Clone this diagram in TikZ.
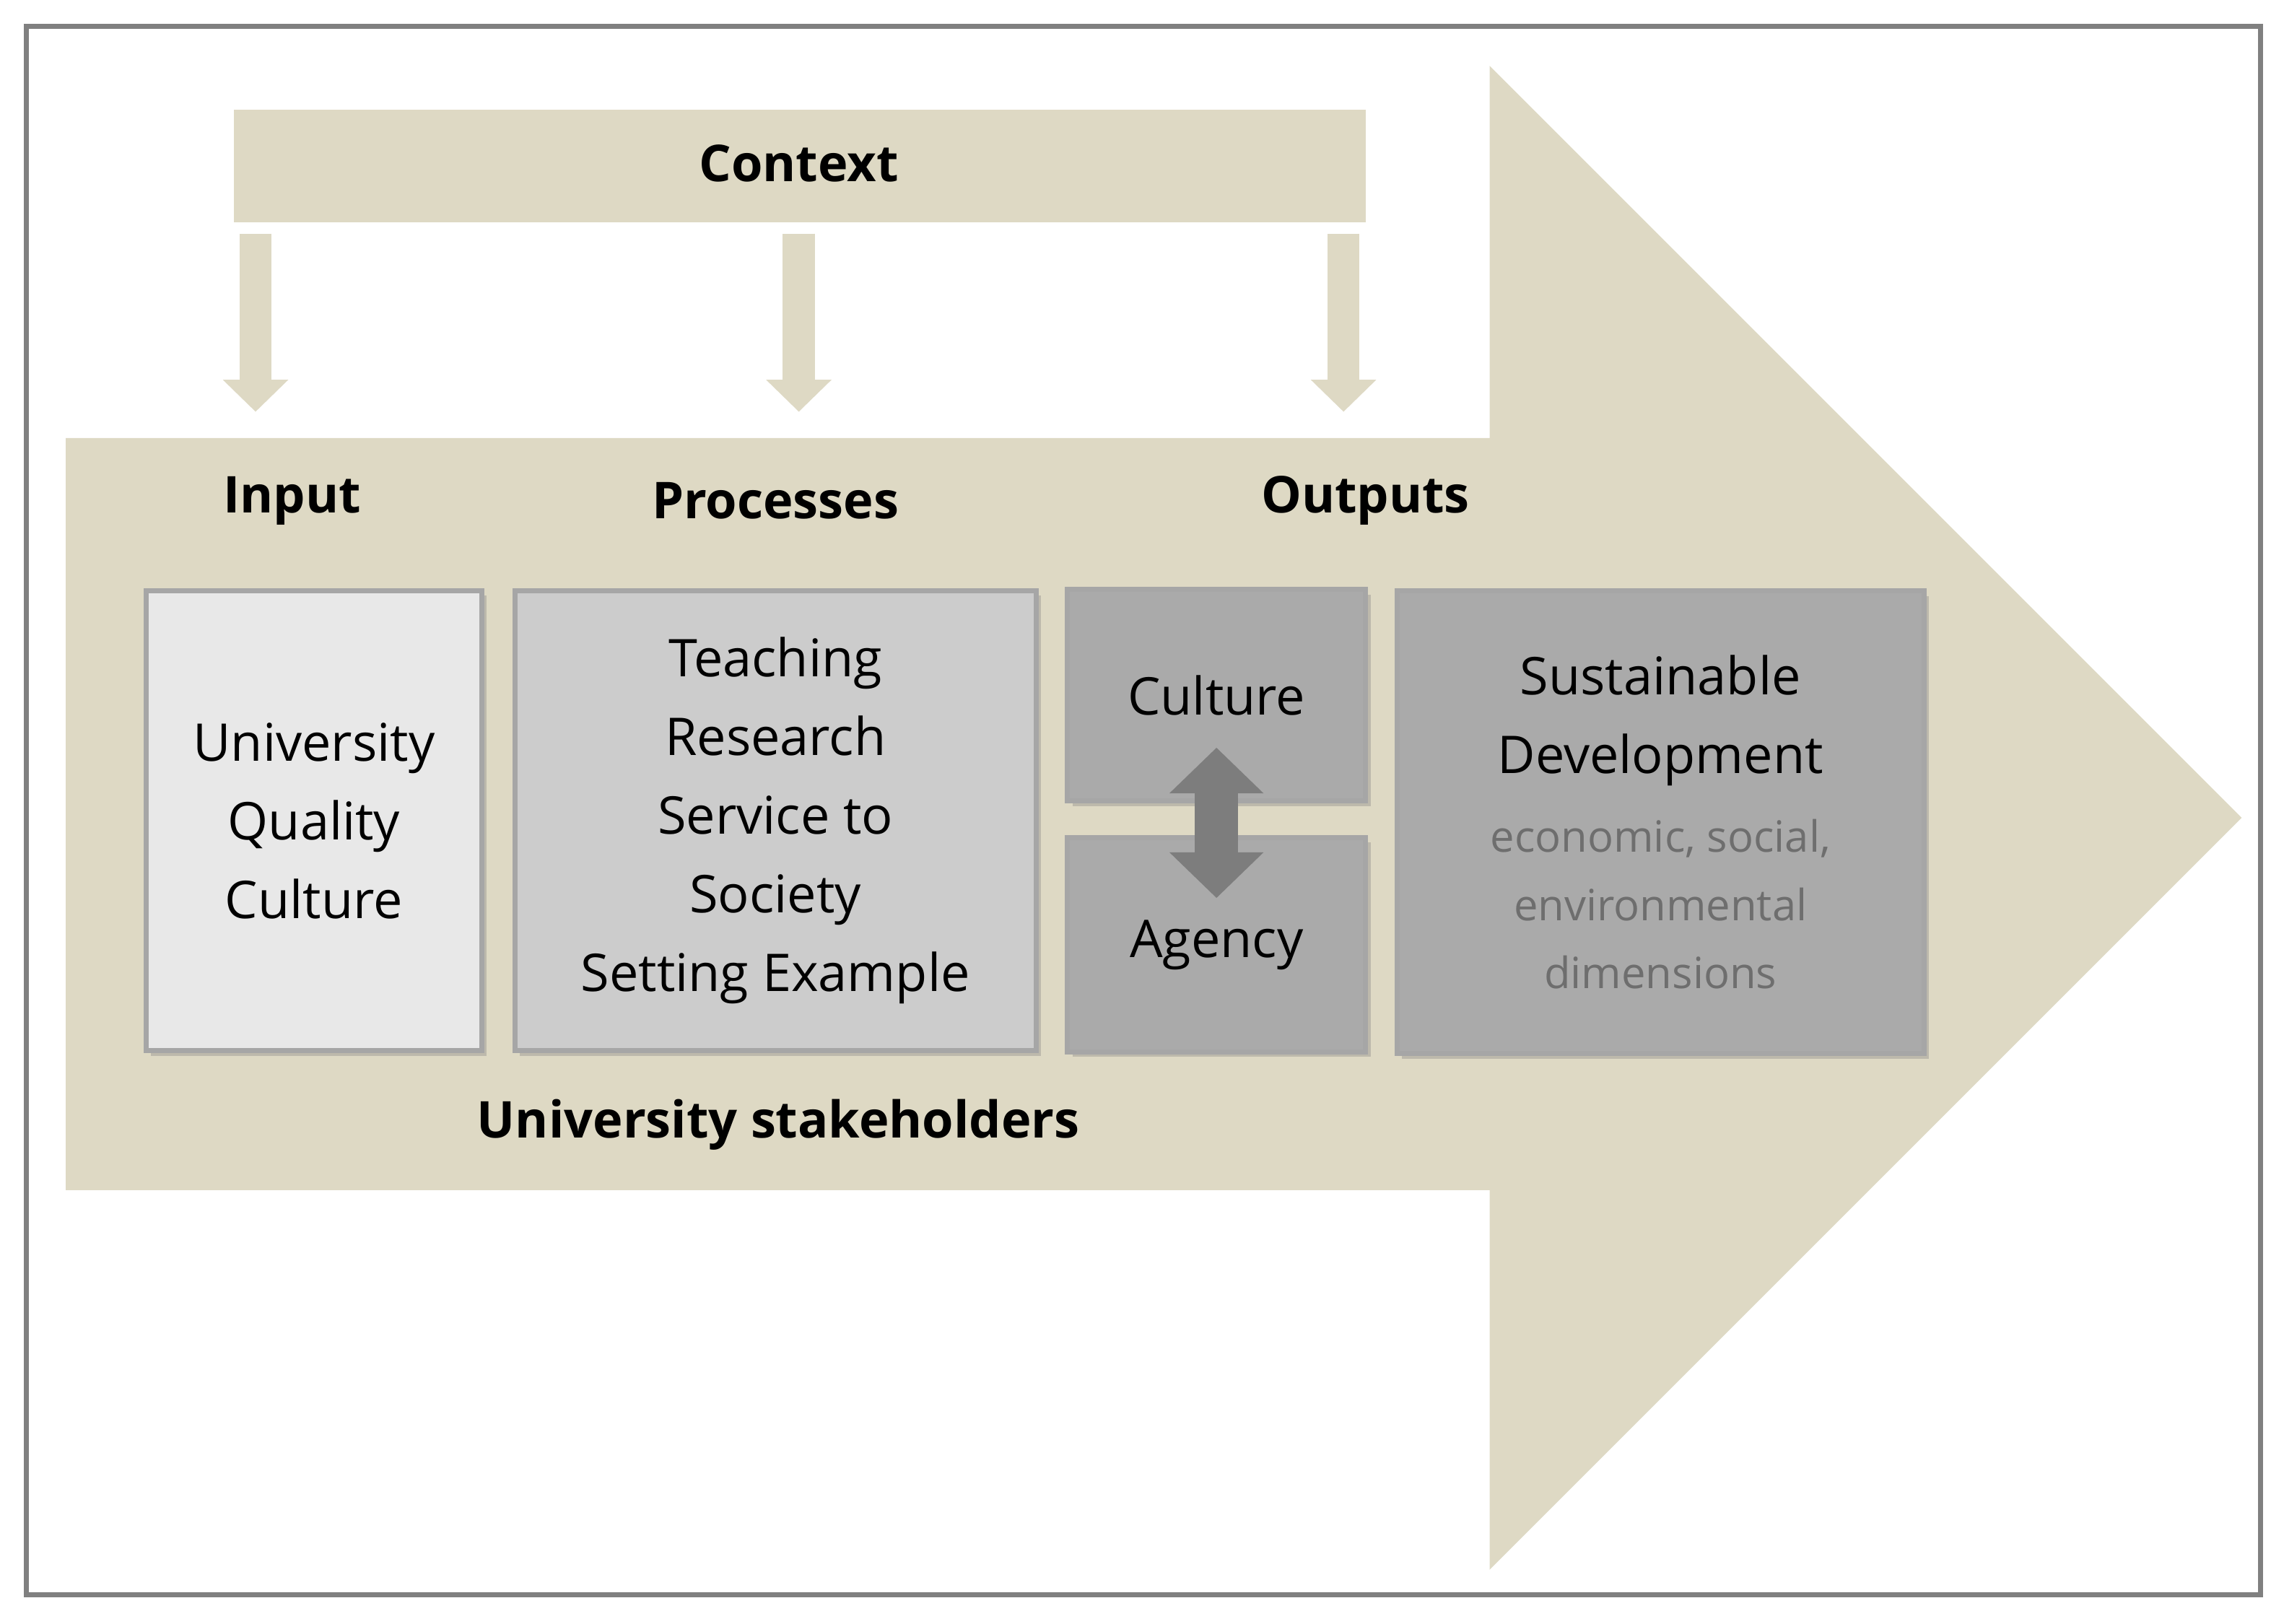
\documentclass[tikz,border=0pt]{standalone}
\usepackage{fontspec}
\setmainfont{Open Sans}
\usetikzlibrary{arrows.meta,shadows}
\definecolor{beige}{RGB}{222,217,196}
\definecolor{boxA}{RGB}{232,232,232}
\definecolor{boxB}{RGB}{204,204,204}
\definecolor{boxC}{RGB}{170,170,170}
\definecolor{darkarr}{RGB}{125,125,125}
\definecolor{subtxt}{RGB}{110,110,110}
\begin{document}
\begin{tikzpicture}[x=0.2023mm,y=-0.2023mm,
  box/.style={draw=gray!70,line width=2pt,drop shadow={shadow xshift=2pt,shadow yshift=-2pt,opacity=0.35},align=center,font=\fontsize{20.5}{31}\selectfont},
  head/.style={font=\fontsize{20}{24}\selectfont\bfseries},
  down/.style={beige,line width=12.6pt,-{Triangle[width=25pt,length=12.6pt]}}]
\useasboundingbox (0,0) rectangle (1564,1112);
% frame
\draw[gray,line width=2pt] (18,18) rectangle (1548,1092);
% big arrow
\fill[beige] (45,300) -- (1020,300) -- (1020,45) -- (1535,560) -- (1020,1075) -- (1020,815) -- (45,815) -- cycle;
% context
\fill[beige] (160,75) rectangle (935,152);
\node[head] (ctx) at (547,112) {Context};
\foreach \X [count=\Z] in {175,547,920}
{\coordinate (s\Z) at (\X,160);
 \coordinate (e\Z) at (\X,282);
 \draw[down] (s\Z) -- (e\Z);}
% headings
\node[head] (inp) at (200,343) {Input};
\node[head] (pro) at (531,343) {Processes};
\node[head] (out) at (935,343) {Outputs};
\node[head] (stk) at (533,770) {University stakeholders};
% boxes
\node[box,fill=boxA,minimum width=46.5mm,minimum height=63.7mm] (uqc) at (215,562) {University\\Quality\\Culture};
\node[box,fill=boxB,minimum width=72.2mm,minimum height=63.7mm] (tea) at (531,562) {Teaching\\Research\\Service to\\Society\\Setting Example};
\node[box,fill=boxC,minimum width=41.3mm,minimum height=29.3mm] (cul) at (833,476) {Culture};
\node[box,fill=boxC,minimum width=41.3mm,minimum height=29.7mm] (age) at (833,647) {Agency};
\node[box,fill=boxC,minimum width=73mm,minimum height=64.1mm] (sd) at (1137,563) {Sustainable\\Development\\{\fontsize{17}{24}\selectfont\color{subtxt}economic, social,}\\[-4pt]{\fontsize{17}{24}\selectfont\color{subtxt}environmental}\\[-4pt]{\fontsize{17}{24}\selectfont\color{subtxt}dimensions}};
% double arrow
\coordinate (a1) at (833,512);
\coordinate (a2) at (833,615);
\draw[darkarr,line width=17pt,{Triangle[width=36pt,length=18pt]}-{Triangle[width=36pt,length=18pt]}] (a1) -- (a2);
\end{tikzpicture}
\end{document}
